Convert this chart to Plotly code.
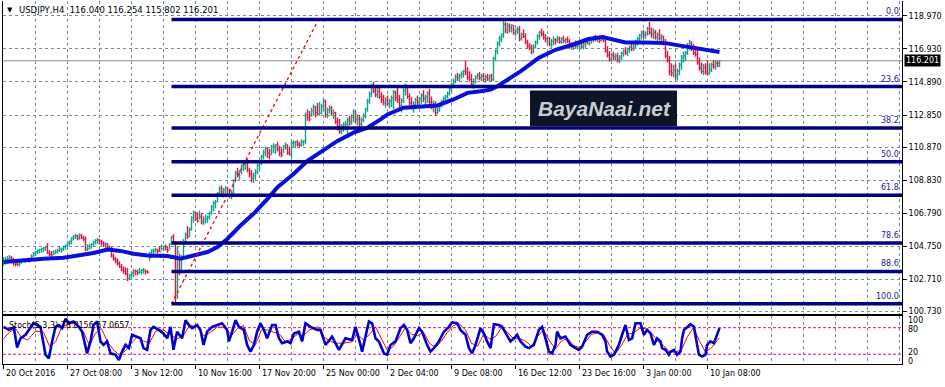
import plotly.graph_objects as go

W, H = 945, 387

# ---------------- data ----------------
symbol_title = "USDJPY,H4  116.040 116.254 115.802 116.201"
first_open = 103.70

highs = [
104.05,104.10,104.15,104.20,104.15,104.05,103.90,103.95,103.85,103.95,104.00,103.95,104.00,104.05,104.25,104.40,
104.45,104.55,104.60,104.65,104.70,104.75,104.95,104.50,104.45,104.50,104.55,104.60,104.70,104.65,104.80,104.85,
105.00,105.10,105.30,105.45,105.50,105.45,105.55,105.50,105.40,105.35,104.85,104.90,104.95,105.10,105.20,105.25,
105.20,105.15,105.05,105.00,104.95,104.80,104.70,104.30,104.10,104.00,103.80,103.65,103.50,103.45,103.40,103.05,
103.20,103.35,103.30,103.30,103.40,103.35,103.40,103.30,103.25,104.40,104.55,104.60,104.65,104.60,104.75,104.85,
104.80,104.85,104.75,104.95,105.40,105.50,105.05,104.70,104.30,104.20,105.20,105.60,106.00,105.90,106.60,106.95,
106.90,106.85,106.95,106.80,106.60,106.70,106.65,106.90,107.30,107.55,107.60,108.10,108.45,108.50,108.35,108.45,
108.40,108.30,108.20,108.90,109.40,109.60,109.45,109.80,109.95,110.00,110.15,109.60,109.45,109.30,109.50,109.85,
110.00,110.40,110.70,110.90,110.85,110.75,111.00,111.10,111.05,111.20,110.95,110.80,111.00,111.15,111.05,110.90,
111.25,111.30,111.25,111.30,111.20,111.35,111.30,113.00,113.20,113.10,113.30,113.50,113.40,113.60,113.65,113.55,
113.85,113.80,113.30,113.45,113.40,113.20,113.05,112.70,112.60,112.30,112.40,112.50,112.70,112.80,112.90,113.20,
113.10,112.90,112.85,112.70,112.95,113.30,113.85,114.30,114.80,114.90,114.60,114.50,114.55,114.25,114.10,113.95,
114.05,113.85,114.05,114.40,114.35,114.60,114.10,113.90,114.50,114.80,114.65,114.20,113.95,113.70,113.90,114.05,
113.95,114.20,114.40,114.10,114.30,114.45,114.00,113.75,113.70,113.30,113.55,113.80,114.00,114.10,114.30,114.60,
114.85,115.10,115.35,115.45,115.40,115.55,115.65,116.20,115.80,115.55,115.40,115.10,115.30,115.45,115.50,115.40,
115.45,115.35,115.40,115.35,115.40,116.45,116.90,117.40,117.75,117.90,118.66,118.60,118.55,118.50,118.45,118.40,
118.20,118.30,118.35,117.95,118.15,117.90,117.50,117.30,117.20,117.20,117.45,117.85,118.05,118.20,118.05,117.85,
117.70,117.65,117.55,117.70,117.60,117.75,117.70,117.65,117.75,117.60,117.70,117.55,117.35,117.30,117.45,117.30,
117.35,117.40,117.30,117.45,117.55,117.50,117.60,117.75,117.80,117.70,117.75,117.70,117.80,117.50,117.10,116.80,
116.70,116.75,116.65,116.70,116.55,116.75,116.90,117.05,117.00,117.15,117.25,117.20,117.50,117.70,117.85,118.05,
118.10,118.00,118.30,118.60,118.25,118.20,118.10,117.95,118.15,117.85,117.75,117.55,116.80,116.50,116.05,115.95,
116.00,115.70,116.10,116.55,116.75,116.80,117.30,117.50,117.40,117.25,117.10,117.00,116.40,116.10,116.00,116.05,
116.20,116.05,116.10,116.25,116.20,116.20,116.254]

lows = [
103.55,103.60,103.70,103.80,103.75,103.55,103.50,103.55,103.50,103.70,103.80,103.75,103.80,103.75,103.85,104.10,
104.15,104.25,104.30,104.35,104.40,104.45,104.25,104.15,104.10,104.20,104.25,104.30,104.40,104.35,104.45,104.55,
104.70,104.80,104.85,105.10,105.20,105.10,105.15,105.20,105.05,104.45,104.45,104.55,104.60,104.75,104.85,104.90,
104.85,104.80,104.70,104.65,104.60,104.50,104.05,103.85,103.70,103.55,103.40,103.20,103.05,102.95,102.60,102.65,
102.70,102.85,102.95,102.95,103.05,103.00,103.05,103.00,103.05,103.85,104.00,104.25,104.35,104.30,104.40,104.50,
104.45,104.50,104.35,104.55,104.85,104.90,101.19,101.50,102.95,103.10,103.90,104.90,105.20,105.30,105.70,106.20,
106.30,106.20,106.40,106.10,106.05,106.15,106.20,106.40,106.70,106.90,107.10,107.45,107.80,107.95,107.75,107.90,
107.80,107.70,107.65,107.95,108.70,109.00,108.85,109.20,109.40,109.45,109.30,109.00,108.70,108.65,108.85,109.20,
109.50,109.75,110.10,110.30,110.20,110.10,110.40,110.50,110.45,110.60,110.30,110.25,110.50,110.70,110.40,110.35,
110.25,110.85,110.80,110.90,110.85,110.90,110.95,111.05,112.50,112.45,112.75,112.80,112.70,112.85,112.80,112.90,
113.10,112.70,112.65,112.95,112.80,112.60,112.30,111.90,111.70,111.65,111.80,111.90,111.70,112.20,112.25,112.40,
112.35,112.20,112.10,111.95,112.40,112.65,113.05,113.55,113.95,114.20,113.95,113.90,113.85,113.60,113.45,113.30,
113.40,113.25,113.35,113.20,113.70,113.60,113.25,113.00,113.60,114.05,113.85,113.45,113.20,113.00,113.30,113.45,
113.35,113.55,113.65,113.40,113.60,113.50,113.20,113.00,112.80,112.90,113.05,113.30,113.55,113.70,113.85,114.05,
114.30,114.55,114.80,114.95,114.90,115.10,115.15,115.30,115.00,114.90,114.60,114.45,114.80,115.05,115.00,114.95,
114.90,114.85,114.95,114.90,114.95,114.95,116.20,116.60,117.10,117.35,117.60,117.90,117.85,117.95,117.95,117.80,
117.70,117.85,117.40,117.45,117.60,117.20,116.95,116.85,116.60,116.65,116.95,117.20,117.50,117.70,117.50,117.35,
117.20,117.10,117.00,117.15,117.20,117.30,117.25,117.25,117.30,117.25,117.30,117.05,116.90,116.85,117.00,116.90,
116.95,116.95,116.90,117.00,117.20,117.15,117.25,117.35,117.40,117.35,117.30,117.40,117.35,116.70,116.40,116.15,
116.20,116.25,116.20,116.10,116.05,116.25,116.45,116.55,116.50,116.70,116.80,116.80,116.95,117.15,117.30,117.50,
117.60,117.55,117.75,117.80,117.60,117.55,117.50,117.35,117.45,117.30,117.15,116.35,116.10,115.30,115.25,115.20,
115.05,115.00,115.30,115.65,116.10,116.20,116.55,116.85,116.80,116.55,116.45,115.95,115.60,115.40,115.30,115.35,
115.30,115.35,115.50,115.70,115.65,115.80,115.802]

closes = [
103.85,103.90,104.00,104.05,103.95,103.80,103.65,103.60,103.70,103.80,103.85,103.90,103.95,103.90,104.10,104.30,
104.40,104.50,104.55,104.60,104.65,104.70,104.35,104.25,104.20,104.30,104.40,104.50,104.55,104.60,104.70,104.80,
104.95,105.05,105.25,105.35,105.40,105.25,105.45,105.30,105.20,104.55,104.60,104.70,104.85,105.00,105.10,105.15,
105.05,104.95,104.85,104.90,104.70,104.60,104.15,103.95,103.85,103.70,103.50,103.30,103.20,103.05,102.75,102.95,
103.10,103.25,103.20,103.10,103.15,103.25,103.30,103.20,103.15,104.30,104.45,104.50,104.55,104.45,104.40,104.60,
104.70,104.55,104.50,104.90,105.30,105.00,101.70,104.40,103.20,104.00,105.00,105.45,105.35,105.80,106.50,106.80,
106.45,106.30,106.55,106.25,106.35,106.45,106.55,106.80,107.20,107.40,107.50,108.00,108.30,108.10,108.20,108.35,
107.95,107.85,108.05,108.80,109.25,109.15,109.35,109.70,109.80,109.90,109.45,109.20,108.95,109.10,109.35,109.75,
109.90,110.30,110.55,110.80,110.50,110.40,110.85,110.95,111.00,110.75,110.50,110.40,110.90,111.00,110.55,110.45,
111.10,111.15,111.20,111.05,111.00,111.20,111.25,112.85,112.70,112.60,113.10,113.35,113.00,112.90,112.95,113.40,
113.70,112.85,113.15,113.25,112.95,113.00,112.45,112.15,111.85,112.10,112.25,112.30,112.55,112.45,112.70,113.05,
112.55,112.60,112.30,112.55,112.80,113.20,113.70,114.15,114.65,114.35,114.10,114.30,114.00,113.80,113.60,113.75,
113.55,113.70,113.90,114.25,113.95,113.80,113.45,113.75,114.35,114.60,114.00,113.60,113.35,113.50,113.75,113.65,
113.85,114.05,113.85,113.95,114.20,113.65,113.40,113.55,113.00,113.15,113.45,113.70,113.85,114.00,114.15,114.50,
114.70,114.95,115.20,115.10,115.30,115.40,115.55,115.45,115.15,115.05,114.75,114.90,115.20,115.30,115.15,115.25,
115.05,115.20,115.10,115.25,115.05,116.35,116.80,117.25,117.55,117.80,118.45,118.10,118.35,118.25,118.40,117.95,
118.05,118.15,117.55,117.80,117.70,117.35,117.10,117.00,116.75,117.05,117.35,117.70,117.95,117.85,117.65,117.55,
117.60,117.25,117.40,117.50,117.45,117.55,117.40,117.55,117.45,117.50,117.40,117.15,117.05,117.20,117.10,117.15,
117.25,117.05,117.20,117.35,117.30,117.45,117.50,117.65,117.55,117.60,117.45,117.65,117.45,116.85,116.55,116.30,
116.55,116.45,116.50,116.30,116.40,116.65,116.80,116.70,116.90,117.05,116.95,117.10,117.40,117.55,117.75,117.90,
117.80,117.90,118.20,117.95,117.85,117.95,117.65,117.80,117.60,117.70,117.25,116.50,116.25,115.55,115.45,115.60,
115.30,115.55,115.95,116.40,116.50,116.70,117.15,117.30,116.95,116.70,116.60,116.10,115.75,115.55,115.80,115.50,
115.40,115.65,115.95,115.85,116.05,116.04,116.201]

# moving average (bar index, price)
ma_x = [0,8.5,20,30,37,45,52,58.5,65,72,82,85,88.5,95,102,107,112,118.5,125,132,137,142,145,152,158.5,163.5,
        167,175,182,188.5,192,200,208.5,217,225,232,238.5,243.5,247,252,258.5,267.5,276,284.5,292.5,299.5,306,
        311,321,331,337.5,344.5,351,358]
ma_v = [103.78,103.88,103.98,104.04,104.15,104.33,104.54,104.46,104.29,104.18,104.15,104.09,103.98,104.18,104.39,
        104.70,105.21,106.03,106.75,107.67,108.39,108.90,109.21,110.02,110.57,110.98,111.25,111.76,112.07,112.58,
        112.89,113.30,113.40,113.44,113.81,114.22,114.32,114.42,114.63,115.04,115.55,116.37,116.88,117.19,117.54,
        117.66,117.50,117.33,117.33,117.29,117.15,117.02,116.84,116.74]

# Fibonacci retracement anchors
fib_low_bar, fib_low = 84, 101.19
fib_high_bar, fib_high = 157.5, 118.75
fib_ratios = [0.0, 0.236, 0.382, 0.5, 0.618, 0.786, 0.886, 1.0]
fib_labels = ["0.0", "23.6", "38.2", "50.0", "61.8", "78.6", "88.6", "100.0"]

# price axis labels
price_ticks = [118.970, 116.930, 114.890, 112.850, 110.870, 108.830, 106.790, 104.750, 102.710, 100.730]

# time axis labels (bar index, text)
date_bars = [0, 32, 64, 96, 128, 160, 192, 224, 256, 288, 320, 352]
date_text = ["20 Oct 2016", "27 Oct 08:00", "3 Nov 12:00", "10 Nov 16:00", "17 Nov 20:00", "25 Nov 00:00",
             "2 Dec 04:00", "9 Dec 08:00", "16 Dec 12:00", "23 Dec 16:00", "3 Jan 00:00", "10 Jan 08:00"]

# stochastic %K (main) and %D (signal)
k_x = [0,2.7,5.2,6.8,8.5,11,15,18.5,21,22.7,24.3,26,27.7,29.3,31,32.7,35,37.7,39.3,41,41.8,43.5,45,46.8,48.5,50,
       51.8,53.5,56,57.7,59.3,61,62.7,64.3,66,68.5,70,71.8,73.5,75,77.7,80,81.8,83.5,85,86.8,89.3,91,92.7,94.3,96.8,
       98.5,100,101.8,104.3,106.8,109.3,111.8,112.7,114.3,116,117.7,120.2,121.8,123.5,125.2,126.8,128.5,130.2,131.8,
       134.3,136,137.7,139.3,141.8,143.5,145.2,147.7,149.3,151,153.5,156.8,158.5,161,164.3,167.7,171,174.3,176,178.5,
       179.3,182.7,184.3,186,187.7,190.2,191.8,193.5,196,198.5,200.2,201.8,203.5,205.2,207.7,209.3,211.8,213.5,215.2,
       217.7,220.2,222.7,224.3,226.8,228.5,231,232.7,234.3,236,238.5,240.2,241.8,243.5,245.2,247.7,249.3,251.8,253.5,
       255.2,256.8,258.5,261,262.7,265.2,267.7,269.3,271,272.7,274.3,276,276.8,278.5,281,283.5,286,287.7,289.3,291.8,
       294.3,296.8,299.3,301,301.8,303.5,305.2,307.7,309.3,311,312.7,314.3,316,318.5,320.2,321.8,323.5,325.2,326.8,
       328.5,329.3,331,332.7,333.5,335.2,336.8,338.5,339.3,340.2,341.8,343.5,345.2,346,346.8,347.7,349.3,351,351.8,
       353.5,355.2,356.8,358]
k_v = [82,75,80,35,56,64,90,82,19,11,49,82,86,79,100,90,94,82,71,34,22,49,86,94,49,41,49,22,19,7,26,41,34,64,60,56,
       34,30,75,82,75,67,56,82,30,71,56,97,86,79,86,75,41,71,82,86,90,75,49,71,97,82,75,41,26,41,71,90,75,56,86,86,56,
       45,49,45,67,71,49,90,82,75,75,41,60,30,56,52,82,41,26,94,90,56,49,22,19,41,49,79,86,75,45,56,79,71,41,26,34,49,
       71,82,92,90,75,64,34,22,41,79,67,49,34,88,86,82,64,49,56,64,49,37,34,41,75,82,56,26,22,41,71,56,60,41,34,30,37,
       64,71,71,64,49,26,15,19,41,64,86,52,56,90,90,64,75,67,41,56,49,34,30,19,26,30,19,26,56,75,82,88,82,64,41,19,15,
       19,41,49,45,64,79]
d_x = [0,3,6,9,12,16,20,23,26,29,32,36,40,43,46,49,52,55,58,61,64,67,70,73,76,80,84,87,90,93,97,100,103,107,111,114,
       117,120,123,126,129,132,135,138,141,144,147,150,153,157,160,163,166,170,174,177,180,183,186,189,192,195,198,
       201,204,207,210,213,216,219,222,225,228,231,234,237,240,243,246,249,252,255,258,261,264,267,270,273,276,279,
       282,285,288,291,294,297,300,303,306,309,312,315,318,321,324,327,330,333,336,339,342,345,348,351,354,357,358]
d_v = [55,70,78,58,52,72,70,38,48,80,88,90,70,40,68,78,48,30,18,28,45,60,50,45,72,75,62,55,62,85,82,62,68,82,80,62,
       78,85,50,42,75,75,70,65,48,55,65,62,75,82,60,50,45,45,48,65,52,65,82,55,28,38,60,80,65,62,70,45,35,50,70,85,88,
       75,45,38,65,55,60,80,70,55,55,50,38,60,75,50,32,50,55,40,35,48,65,68,65,40,22,40,65,68,78,78,68,50,40,25,25,30,
       60,80,50,25,35,52,57]
stoch_title = "Stoch(5,3,3) 78.8156 57.0657"
stoch_levels = [20, 80]
stoch_scale = [("100", 322.5), ("80", 331.5), ("20", 354.5), ("0", 363.5)]

# ---------------- styling ----------------
UP = "#10a08a"
DN = "#e8103c"
GRID = "#778899"
FIB = "#000080"
FONT = "DejaVu Sans"

PX_L, PX_R = 3, 902
MAIN_TOP, MAIN_BOT = 1, 316
ST_TOP, ST_BOT = 318, 366
X_RANGE = [-0.25, 449.25]
Y_MAIN = [100.542, 119.891]
Y_ST = [-2.25, 105.6]

def py(y):
    return (H - y) / H

def px(x):
    return x / W

opens = [first_open] + closes[:-1]

# bar stems (high-low) and open/close ticks, split by direction
stems = {True: ([], []), False: ([], [])}
ticks = {True: ([], []), False: ([], [])}
for i, (o, h, l, c) in enumerate(zip(opens, highs, lows, closes)):
    up = c >= o
    sx, sy = stems[up]
    sx += [i, i, None]
    sy += [l, h, None]
    tx, ty = ticks[up]
    tx += [i - 0.5, i, None, i, i + 0.5, None]
    ty += [o, o, None, c, c, None]

fig = go.Figure()
for up, col in [(True, UP), (False, DN)]:
    fig.add_trace(go.Scatter(x=ticks[up][0], y=ticks[up][1], mode="lines", line=dict(color=col, width=1),
                             connectgaps=False, hoverinfo="skip", xaxis="x", yaxis="y"))
for up, col in [(True, UP), (False, DN)]:
    fig.add_trace(go.Scatter(x=stems[up][0], y=stems[up][1], mode="lines", line=dict(color=col, width=1.4),
                             connectgaps=False, hoverinfo="skip", xaxis="x", yaxis="y"))
fig.add_trace(go.Scatter(x=ma_x, y=ma_v, mode="lines", line=dict(color="#0a10d8", width=4),
                         hoverinfo="skip", xaxis="x", yaxis="y"))
fig.add_trace(go.Scatter(x=[fib_low_bar, fib_high_bar], y=[fib_low, fib_high], mode="lines",
                         line=dict(color="#ff0000", width=1.3, dash="dot"),
                         hoverinfo="skip", xaxis="x", yaxis="y"))
fig.add_trace(go.Scatter(x=d_x, y=d_v, mode="lines", line=dict(color="#ff0000", width=1),
                         hoverinfo="skip", xaxis="x2", yaxis="y2"))
fig.add_trace(go.Scatter(x=k_x, y=k_v, mode="lines", line=dict(color="#0000cd", width=2.6),
                         hoverinfo="skip", xaxis="x2", yaxis="y2"))

shapes = []
annotations = []
rng = fib_high - fib_low
for r, lab in zip(fib_ratios, fib_labels):
    lvl = fib_high - r * rng
    shapes.append(dict(type="line", xref="x", yref="y", x0=fib_low_bar, x1=X_RANGE[1], y0=lvl, y1=lvl,
                       line=dict(color=FIB, width=3.5), layer="above"))
    annotations.append(dict(x=X_RANGE[1], y=lvl, xref="x", yref="y", text=lab, showarrow=False,
                            xanchor="right", yanchor="bottom", yshift=1, xshift=-1,
                            font=dict(family=FONT, size=8, color="#202090")))

# current price line
shapes.append(dict(type="line", xref="x domain", yref="y", x0=0, x1=1, y0=closes[-1], y1=closes[-1],
                   line=dict(color="#8a8a8a", width=1), layer="below"))
for lv in stoch_levels:
    shapes.append(dict(type="line", xref="x2 domain", yref="y2", x0=0, x1=1, y0=lv, y1=lv,
                       line=dict(color="#c71585", width=1, dash="3px,2px"), layer="below"))

# watermark box
shapes.append(dict(type="rect", xref="paper", yref="paper", x0=px(530), x1=px(677), y0=py(127), y1=py(91),
                   fillcolor="#0c1426", line=dict(width=0), layer="above"))
annotations.append(dict(x=px(604), y=py(109), xref="paper", yref="paper", xanchor="center", yanchor="middle",
                        text="<b><i>BayaNaai.net</i></b>", showarrow=False,
                        font=dict(family="Liberation Sans", size=21, color="#c9ced2")))

# title
annotations.append(dict(x=px(5), y=py(10), xref="paper", yref="paper", xanchor="left", yanchor="middle",
                        text="\u25BC", showarrow=False, font=dict(family=FONT, size=7, color="#000000")))
annotations.append(dict(x=px(17), y=py(10), xref="paper", yref="paper", xanchor="left", yanchor="middle",
                        text=symbol_title, showarrow=False,
                        font=dict(family=FONT, size=8.5, color="#000000")))
annotations.append(dict(x=px(7), y=py(327), xref="paper", yref="paper", xanchor="left", yanchor="middle",
                        text=stoch_title, showarrow=False, font=dict(family=FONT, size=8, color="#000000")))

# current price box
annotations.append(dict(x=px(904), y=closes[-1], xref="paper", yref="y", xanchor="left", yanchor="middle",
                        text="%.3f" % closes[-1], showarrow=False, bgcolor="#000000", borderpad=1,
                        font=dict(family=FONT, size=8, color="#ffffff")))

# stochastic scale labels
for txt, yy in stoch_scale:
    annotations.append(dict(x=px(906), y=py(yy), xref="paper", yref="paper", xanchor="left", yanchor="middle",
                            text=txt, showarrow=False, font=dict(family=FONT, size=8, color="#000000")))

# date labels
for b, t in zip(date_bars, date_text):
    annotations.append(dict(x=b, y=py(375), xref="x2", yref="paper", xanchor="left", yanchor="middle",
                            text=t, showarrow=False, xshift=0, font=dict(family=FONT, size=8, color="#000000")))

fig.update_layout(
    width=W, height=H, margin=dict(l=0, r=0, t=0, b=0),
    paper_bgcolor="white", plot_bgcolor="white", showlegend=False,
    shapes=shapes, annotations=annotations,
    xaxis=dict(domain=[px(PX_L), px(PX_R)], range=X_RANGE, anchor="y",
               showgrid=True, gridcolor=GRID, griddash="3px,3px", gridwidth=1, tick0=0, dtick=16,
               showticklabels=False, ticks="", zeroline=False,
               showline=True, mirror=False, linecolor="#000000", linewidth=1),
    yaxis=dict(domain=[py(MAIN_BOT), py(MAIN_TOP)], range=Y_MAIN, anchor="x", side="right",
               tickmode="array", tickvals=price_ticks, ticktext=["%.3f" % v for v in price_ticks],
               showgrid=True, gridcolor=GRID, griddash="3px,3px", gridwidth=1,
               ticks="outside", ticklen=4, tickcolor="#000000",
               tickfont=dict(family=FONT, size=8, color="#000000"), zeroline=False,
               showline=True, mirror=True, linecolor="#000000", linewidth=1),
    xaxis2=dict(domain=[px(PX_L), px(PX_R)], range=X_RANGE, anchor="y2", matches="x",
                tickmode="array", tickvals=date_bars, showticklabels=False,
                ticks="outside", ticklen=4, tickcolor="#000000",
                showgrid=True, gridcolor=GRID, griddash="3px,3px",
                minor=dict(tick0=0, dtick=16, showgrid=True, gridcolor=GRID, griddash="3px,3px", ticks=""),
                zeroline=False, showline=True, mirror=True, linecolor="#000000", linewidth=1),
    yaxis2=dict(domain=[py(ST_BOT), py(ST_TOP)], range=Y_ST, anchor="x2", side="right",
                showgrid=False, showticklabels=False, ticks="", zeroline=False,
                showline=True, mirror=True, linecolor="#000000", linewidth=1),
)

fig.write_html("out.html", config={"displayModeBar": False})
